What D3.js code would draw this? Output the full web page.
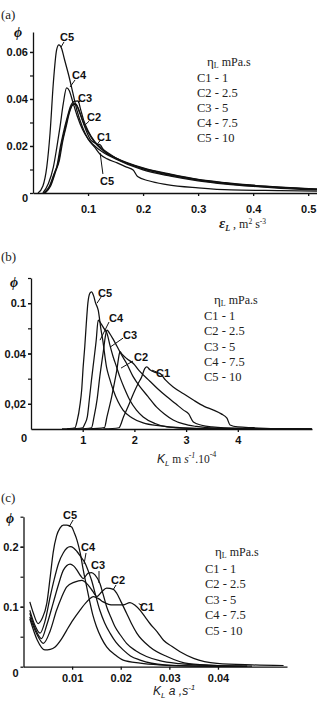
<!DOCTYPE html>
<html><head><meta charset="utf-8">
<script src="https://cdn.jsdelivr.net/npm/d3@7"></script>
<style>body{margin:0;background:#fff}svg{display:block}</style>
</head><body>
<script>
// ---------- DATA ----------
const seriesNames = ["C1","C2","C3","C4","C5"];
const legendTitle = "mPa.s";
const legendItems = ["C1 - 1","C2 - 2.5","C3 - 5","C4 - 7.5","C5 - 10"];

// Panel (a): phi vs epsilon_L
const aC1 = [[0.022,0],[0.032,0.003],[0.041,0.009],[0.048,0.014],[0.054,0.022],[0.06,0.028],[0.066,0.034],[0.072,0.0375],[0.078,0.0378],[0.085,0.034],[0.095,0.0275],[0.105,0.0225],[0.115,0.021],[0.122,0.0205],[0.13,0.0175],[0.15,0.015],[0.2,0.0107],[0.25,0.008],[0.3,0.0058],[0.35,0.0044],[0.4,0.0033],[0.45,0.0025],[0.516,0.0017]];
const aC2 = [[0.021,0],[0.031,0.003],[0.04,0.009],[0.046,0.013],[0.052,0.021],[0.058,0.027],[0.064,0.033],[0.07,0.037],[0.076,0.038],[0.082,0.036],[0.09,0.031],[0.1,0.026],[0.112,0.0215],[0.125,0.0185],[0.15,0.0148],[0.2,0.0105],[0.25,0.0078],[0.3,0.0057],[0.35,0.0042],[0.4,0.0032],[0.45,0.0024],[0.516,0.0016]];
const aC3 = [[0.02,0],[0.03,0.003],[0.038,0.008],[0.043,0.011],[0.05,0.02],[0.055,0.0255],[0.062,0.032],[0.068,0.0368],[0.075,0.039],[0.082,0.0392],[0.086,0.036],[0.092,0.031],[0.1,0.0265],[0.112,0.022],[0.125,0.019],[0.15,0.015],[0.2,0.0103],[0.25,0.0075],[0.3,0.0055],[0.35,0.004],[0.4,0.003],[0.45,0.0023],[0.516,0.0015]];
const aC4 = [[0.018,0],[0.028,0.004],[0.037,0.011],[0.043,0.019],[0.049,0.028],[0.055,0.038],[0.061,0.0447],[0.066,0.0435],[0.072,0.039],[0.08,0.033],[0.09,0.027],[0.1,0.023],[0.12,0.0185],[0.15,0.0145],[0.2,0.0098],[0.25,0.0072],[0.3,0.0052],[0.35,0.0038],[0.4,0.0028],[0.45,0.002],[0.516,0.0013]];
const aC5 = [[0.009,0],[0.018,0.003],[0.025,0.011],[0.031,0.0255],[0.037,0.047],[0.043,0.061],[0.047,0.063],[0.052,0.0615],[0.057,0.057],[0.065,0.05],[0.072,0.043],[0.08,0.035],[0.09,0.028],[0.1,0.023],[0.112,0.0195],[0.122,0.0165],[0.135,0.0145],[0.153,0.0128],[0.17,0.011],[0.182,0.0098],[0.19,0.007],[0.21,0.0052],[0.243,0.0036],[0.3,0.0022],[0.36,0.0013],[0.45,0.001],[0.516,0.0008]];
const aXTicks = [0.1,0.2,0.3,0.4,0.5];
const aXLabels = ["0.1","0.2","0.3","0.4","0.5"];
const aYTicks = [0,0.02,0.04,0.06];
const aYLabels = ["0","0.02","0.04","0.06"];
const aYMinor = [0.01,0.02,0.03,0.04,0.05,0.06];
// label [name, textX, textY, leaderX1, leaderY1, leaderX2, leaderY2] in data units
const aNotes = [["C5",0.0618,0.0664,0.051,0.0621,0.0564,0.0643],["C4",0.0836,0.0502,0.0673,0.0451,0.0764,0.0481],["C3",0.0945,0.0404,0.0818,0.0383,0.0873,0.0396],["C2",0.111,0.0323,0.0945,0.0289,0.102,0.0306],["C1",0.129,0.0238,0.118,0.0213,0.1236,0.0226],["C5",0.1345,0.0051,0.122,0.017,0.127,0.0081]];

// Panel (b): phi vs K_L
const bC1 = [[1.4,0.01],[1.7,0.0105],[1.79,0.0149],[1.88,0.019],[1.98,0.024],[2.07,0.028],[2.14,0.0307],[2.2,0.034],[2.24,0.0347],[2.3,0.0335],[2.4,0.0325],[2.5,0.032],[2.6,0.0295],[2.75,0.0267],[2.95,0.024],[3.14,0.0215],[3.35,0.019],[3.53,0.0175],[3.68,0.016],[3.79,0.0143],[3.85,0.0116],[4.0,0.0108],[4.3,0.0105],[4.8,0.0101],[5.43,0.01]];
const bC2 = [[1.1,0.01],[1.42,0.0105],[1.47,0.0149],[1.56,0.0228],[1.62,0.029],[1.66,0.0334],[1.7,0.039],[1.72,0.0407],[1.77,0.0395],[1.85,0.038],[1.98,0.036],[2.1,0.033],[2.3,0.029],[2.45,0.026],[2.63,0.0228],[2.8,0.02],[2.95,0.0175],[3.05,0.016],[3.14,0.0128],[3.3,0.0115],[3.5,0.0108],[4.0,0.0102],[5.43,0.01]];
const bC3 = [[0.9,0.01],[1.17,0.0105],[1.22,0.0149],[1.28,0.022],[1.33,0.0307],[1.4,0.041],[1.44,0.047],[1.47,0.0493],[1.52,0.048],[1.58,0.046],[1.66,0.043],[1.75,0.0395],[1.85,0.036],[1.97,0.031],[2.11,0.0267],[2.26,0.023],[2.43,0.0187],[2.58,0.016],[2.75,0.0136],[2.95,0.012],[3.2,0.011],[3.6,0.0103],[5.43,0.01]];
const bC4 = [[0.7,0.01],[1.0,0.0105],[1.04,0.012],[1.09,0.0149],[1.13,0.022],[1.17,0.0295],[1.22,0.038],[1.26,0.045],[1.3,0.0533],[1.35,0.052],[1.41,0.05],[1.47,0.048],[1.53,0.043],[1.59,0.0386],[1.65,0.035],[1.72,0.0306],[1.81,0.026],[1.91,0.0215],[2.04,0.0175],[2.17,0.0148],[2.4,0.0122],[2.63,0.0108],[3.2,0.0101],[5.43,0.01]];
const bC5 = [[0.6,0.01],[0.85,0.0105],[0.89,0.013],[0.95,0.02],[0.98,0.0255],[1.01,0.035],[1.04,0.0427],[1.07,0.052],[1.1,0.06],[1.14,0.064],[1.17,0.0645],[1.21,0.063],[1.25,0.06],[1.3,0.0572],[1.35,0.05],[1.39,0.045],[1.46,0.0347],[1.52,0.03],[1.59,0.0255],[1.68,0.021],[1.78,0.0175],[1.95,0.0145],[2.17,0.0124],[2.5,0.0112],[2.94,0.0104],[3.5,0.0101],[5.43,0.01]];
const bXTicks = [1,2,3,4];
const bXLabels = ["1","2","3","4"];
const bYTicks = [0.02,0.04,0.06];
const bYLabels = ["0,02","0.04","0.1"];
const bYMinor = [0.02,0.03,0.04,0.05,0.06,0.07];
const bOrigin = "0";
const bNotes = [["C5",1.431,0.064,1.277,0.060,1.354,0.0624],["C4",1.644,0.054,1.335,0.0453,1.509,0.0525],["C3",1.915,0.0473,1.528,0.0425,1.78,0.0461],["C2",2.128,0.0386,1.741,0.0342,1.973,0.037],["C1",2.553,0.0322,2.34,0.0334,2.437,0.0326]];

// Panel (c): phi vs K_L a
const cC1 = [[0.0013,0.08],[0.0028,0.045],[0.0044,0.028],[0.0055,0.029],[0.0065,0.033],[0.0078,0.046],[0.0089,0.061],[0.0102,0.078],[0.0116,0.094],[0.013,0.108],[0.0144,0.117],[0.0155,0.113],[0.0164,0.108],[0.0175,0.104],[0.0185,0.103],[0.0205,0.103],[0.0219,0.107],[0.023,0.102],[0.024,0.094],[0.025,0.083],[0.026,0.072],[0.0275,0.058],[0.0288,0.044],[0.0305,0.034],[0.0322,0.025],[0.035,0.014],[0.0398,0.0056],[0.047,0.003],[0.0535,0.002]];
const cC2 = [[0.0013,0.083],[0.0027,0.055],[0.0041,0.039],[0.0055,0.06],[0.0068,0.094],[0.0078,0.115],[0.0089,0.133],[0.0105,0.141],[0.012,0.144],[0.0133,0.136],[0.0143,0.125],[0.0151,0.117],[0.016,0.124],[0.0171,0.131],[0.0185,0.129],[0.0192,0.122],[0.0199,0.111],[0.0212,0.089],[0.0222,0.072],[0.0233,0.056],[0.026,0.033],[0.0295,0.017],[0.034,0.005],[0.04,0.002],[0.047,0.001]];
const cC3 = [[0.0013,0.089],[0.0025,0.062],[0.0037,0.047],[0.0048,0.07],[0.0061,0.106],[0.0072,0.137],[0.0082,0.161],[0.0096,0.171],[0.0103,0.168],[0.011,0.161],[0.0117,0.152],[0.0123,0.147],[0.0133,0.156],[0.014,0.157],[0.0147,0.153],[0.0157,0.139],[0.0164,0.12],[0.0171,0.1],[0.018,0.082],[0.0188,0.067],[0.02,0.052],[0.0212,0.039],[0.023,0.027],[0.0253,0.017],[0.028,0.01],[0.032,0.005],[0.038,0.002],[0.046,0.001]];
const cC4 = [[0.0013,0.094],[0.0023,0.07],[0.0034,0.056],[0.0044,0.075],[0.0055,0.117],[0.0063,0.145],[0.0072,0.172],[0.0082,0.19],[0.0096,0.2],[0.0103,0.198],[0.011,0.192],[0.0118,0.183],[0.0127,0.172],[0.0133,0.16],[0.014,0.144],[0.0148,0.12],[0.0157,0.094],[0.0167,0.073],[0.0178,0.056],[0.019,0.041],[0.0205,0.028],[0.022,0.018],[0.024,0.011],[0.029,0.003],[0.036,0.001],[0.046,0.0005]];
const cC5 = [[0.0013,0.108],[0.002,0.09],[0.003,0.072],[0.0038,0.08],[0.0048,0.106],[0.0055,0.15],[0.0061,0.19],[0.0068,0.218],[0.0075,0.231],[0.0082,0.236],[0.0089,0.236],[0.0099,0.233],[0.0105,0.222],[0.011,0.211],[0.0117,0.188],[0.0123,0.161],[0.013,0.133],[0.0137,0.106],[0.0143,0.085],[0.015,0.067],[0.016,0.048],[0.0171,0.033],[0.0188,0.02],[0.0205,0.011],[0.024,0.006],[0.028,0.003],[0.035,0.001],[0.045,0.0005]];
const cXTicks = [0.01,0.02,0.03,0.04];
const cXLabels = ["0.01","0.02","0.03","0.04"];
const cYTicks = [0,0.1,0.2];
const cYLabels = ["0","0.1","0.2"];
const cYMinor = [0.05,0.1,0.15,0.2,0.25];
const cNotes = [["C5",0.00957,0.2528,0.00936,0.2328,0.0102,0.2445],["C4",0.01327,0.1995,0.01245,0.171,0.01286,0.1895],["C3",0.01533,0.1695,0.01553,0.1395,0.01553,0.1595],["C2",0.01944,0.1445,0.01841,0.1278,0.01903,0.1362],["C1",0.0254,0.0995,0.0237,0.105,0.0245,0.102]];

// ---------- DRAW ----------
const svg = d3.select("body").append("svg").attr("width",317).attr("height",709);
const sans = "'Liberation Sans', Arial, sans-serif";
const serif = "'Liberation Serif', 'Times New Roman', serif";

function panel(cfg){
  const x = d3.scaleLinear().domain(cfg.xDom).range(cfg.xRange);
  const y = d3.scaleLinear().domain(cfg.yDom).range(cfg.yRange);
  const g = svg.append("g");
  g.append("g").attr("transform",`translate(${cfg.xRange[0]},0)`)
    .call(d3.axisLeft(y).tickValues(cfg.yMinor).tickSize(3).tickFormat("").tickSizeOuter(0))
    .call(s=>s.select(".domain").remove())
    .call(s=>s.selectAll("line").attr("stroke","#111").attr("stroke-width",1.2));
  const ya = g.append("g").attr("transform",`translate(${cfg.xRange[0]},0)`)
    .call(d3.axisLeft(y).tickValues(cfg.yTicks).tickSize(3).tickPadding(2).tickSizeOuter(0)
      .tickFormat((d,i)=>cfg.yLabels[i]));
  const xa = g.append("g").attr("transform",`translate(0,${cfg.yRange[0]})`)
    .call(d3.axisBottom(x).tickValues(cfg.xTicks).tickSize(3).tickPadding(cfg.xPad).tickSizeOuter(0)
      .tickFormat((d,i)=>cfg.xLabels[i]));
  [ya,xa].forEach(a=>{
    a.selectAll("path,line").attr("stroke","#111").attr("stroke-width",1.3);
    a.selectAll("text").attr("font-family",sans).attr("font-weight","bold").attr("font-size",11).attr("fill","#111");
  });
  ya.selectAll(".tick").filter(d=>d===0).select("text").attr("dy", (0.32*11+cfg.zeroShift)+"px");
  const line = d3.line().x(d=>x(d[0])).y(d=>y(d[1])).curve(d3.curveMonotoneX);
  cfg.series.forEach(s=>{
    g.append("path").attr("d",line(s)).attr("fill","none").attr("stroke","#111").attr("stroke-width",1.25);
  });
  cfg.notes.forEach(n=>{
    g.append("line").attr("x1",x(n[3])).attr("y1",y(n[4])).attr("x2",x(n[5])).attr("y2",y(n[6]))
      .attr("stroke","#111").attr("stroke-width",1);
    g.append("text").attr("x",x(n[1])).attr("y",y(n[2])).attr("dy","0.35em").attr("text-anchor","middle")
      .attr("font-family",sans).attr("font-weight","bold").attr("font-size",11).attr("fill","#111").text(n[0]);
  });
  g.append("text").attr("x",1).attr("y",cfg.tagY).attr("font-family",serif).attr("font-size",13).attr("fill","#222").text(cfg.tag);
  g.append("text").attr("x",cfg.phiX).attr("y",cfg.phiY).attr("font-family",serif).attr("font-style","italic")
    .attr("font-weight","bold").attr("font-size",14).attr("fill","#111").text("\u03D5");
  const lg = g.append("g").attr("font-family",serif).attr("font-size",12.5).attr("fill","#222");
  const t = lg.append("text").attr("x",cfg.legX+10).attr("y",cfg.legY-1);
  t.append("tspan").attr("font-size",13).text("\u03B7");
  t.append("tspan").attr("font-size",8).attr("dy",2).text("L");
  t.append("tspan").attr("dy",-2).attr("font-size",12).text(" "+legendTitle);
  legendItems.forEach((s,i)=>{
    lg.append("text").attr("x",cfg.legX).attr("y",cfg.legY+cfg.legStep*(i+1)).text(s);
  });
  return {g,x,y};
}

const pa = panel({xDom:[0,0.516],xRange:[33,317],yDom:[0,0.0685],yRange:[193,32],
  xTicks:aXTicks,xLabels:aXLabels,yTicks:aYTicks,yLabels:aYLabels,yMinor:aYMinor,xPad:9,zeroShift:5,
  series:[aC1,aC2,aC3,aC4,aC5],notes:aNotes,tag:"(a)",tagY:19,phiX:14,phiY:37,
  legX:197,legY:67,legStep:15});
{
  const t = pa.g.append("text").attr("x",219).attr("y",228).attr("font-family",serif).attr("fill","#222").attr("font-size",12);
  t.append("tspan").attr("font-style","italic").attr("font-weight","bold").attr("font-size",15).text("\u03B5");
  t.append("tspan").attr("font-style","italic").attr("font-weight","bold").attr("font-size",8).attr("dy",3).text("L");
  t.append("tspan").attr("dy",-3).text("    , m");
  t.append("tspan").attr("font-size",7.5).attr("dy",-4).text("2");
  t.append("tspan").attr("dy",4).text(" s");
  t.append("tspan").attr("font-size",7.5).attr("dy",-4).text("-3");
}

const pb = panel({xDom:[0,5.435],xRange:[31,312],yDom:[0.01,0.07],yRange:[429,278],
  xTicks:bXTicks,xLabels:bXLabels,yTicks:bYTicks,yLabels:bYLabels,yMinor:bYMinor,xPad:4,zeroShift:0,
  series:[bC1,bC2,bC3,bC4,bC5],notes:bNotes,tag:"(b)",tagY:261,phiX:10,phiY:287,
  legX:204,legY:305,legStep:15.2});
pb.g.append("text").attr("x",pb.x(0)-4).attr("y",pb.y(0.01)+13).attr("text-anchor","end")
  .attr("font-family",sans).attr("font-weight","bold").attr("font-size",11).attr("fill","#111").text(bOrigin);
{
  const t = pb.g.append("text").attr("x",157).attr("y",463).attr("font-family",serif).attr("fill","#222").attr("font-size",11.5);
  t.append("tspan").attr("font-family",sans).attr("font-style","italic").attr("font-size",12).text("K");
  t.append("tspan").attr("font-family",sans).attr("font-style","italic").attr("font-size",8).attr("dy",3).text("L");
  t.append("tspan").attr("dy",-3).text(" m ");
  t.append("tspan").attr("font-style","italic").text("s");
  t.append("tspan").attr("font-size",8).attr("font-style","italic").attr("dy",-5).text("-1");
  t.append("tspan").attr("dy",5).text(".10");
  t.append("tspan").attr("font-size",8).attr("dy",-6).text("-4");
}

const pc = panel({xDom:[0,0.0542],xRange:[23.5,287],yDom:[0,0.25],yRange:[666.7,516.7],
  xTicks:cXTicks,xLabels:cXLabels,yTicks:cYTicks,yLabels:cYLabels,yMinor:cYMinor,xPad:5,zeroShift:6,
  series:[cC1,cC2,cC3,cC4,cC5],notes:cNotes,tag:"(c)",tagY:502,phiX:6,phiY:523,
  legX:205,legY:557,legStep:15.5});
{
  const t = pc.g.append("text").attr("x",153).attr("y",695).attr("font-family",sans).attr("font-style","italic").attr("fill","#222").attr("font-size",12);
  t.append("tspan").text("K");
  t.append("tspan").attr("font-size",8).attr("dy",3).text("L");
  t.append("tspan").attr("dy",-3).text(" a ,s");
  t.append("tspan").attr("font-size",8).attr("dy",-5).text("-1");
}
</script>
</body></html>
